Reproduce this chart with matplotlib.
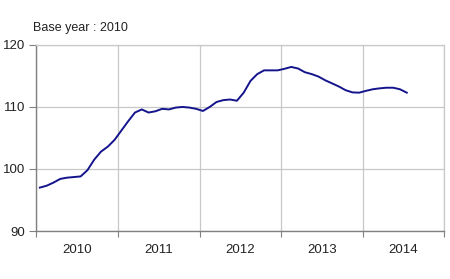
import matplotlib
matplotlib.use("Agg")
import matplotlib.pyplot as plt
import numpy as np

plt.rcParams['font.family'] = ['Liberation Sans', 'DejaVu Sans']

years = ["2010", "2011", "2012", "2013", "2014"]
# Monthly index, Jan 2010 .. Jul 2014
values = [97.0, 97.3, 97.8, 98.4, 98.6, 98.7, 98.8, 99.8, 101.5, 102.8, 103.6, 104.7,
          106.2, 107.7, 109.1, 109.6, 109.1, 109.3, 109.7, 109.6, 109.9, 110.0, 109.9, 109.7,
          109.35, 110.0, 110.8, 111.1, 111.2, 111.0, 112.3, 114.2, 115.3, 115.9, 115.9, 115.9,
          116.15, 116.45, 116.2, 115.6, 115.3, 114.9, 114.3, 113.8, 113.3, 112.7, 112.35, 112.3,
          112.6, 112.85, 113.0, 113.1, 113.1, 112.85, 112.3]
yticks = [90, 100, 110, 120]
title = "Base year : 2010"

fig = plt.figure(figsize=(4.5, 2.79), dpi=100)
ax = fig.add_axes([0.081, 0.172, 0.906, 0.667])

x = np.arange(len(values)) + 0.5
ax.plot(x, values, color='#14148c', lw=1.4, zorder=3)

ax.set_xlim(0, 60)
ax.set_ylim(90, 120)

ax.set_yticks(yticks)
ax.set_yticklabels([str(v) for v in yticks])
ax.set_xticks([12 * i for i in range(6)])
ax.set_xticklabels([])
ax.set_xticks([12 * i + 6 for i in range(len(years))], minor=True)
ax.set_xticklabels(years, minor=True)
ax.tick_params(axis='x', which='minor', length=0, pad=9, labelsize=9.5, labelcolor='#222222')
ax.tick_params(axis='x', which='major', length=4, color='#808080', direction='out')
ax.tick_params(axis='y', length=5, color='#808080', direction='out', labelsize=9.5,
               labelcolor='#222222', pad=3)

ax.grid(True, which='major', color='#c8c8c8', lw=0.9)
ax.set_axisbelow(True)

for s in ['top', 'right']:
    ax.spines[s].set_color('#c8c8c8')
    ax.spines[s].set_linewidth(0.9)
for s in ['left', 'bottom']:
    ax.spines[s].set_color('#808080')
    ax.spines[s].set_linewidth(1.0)

fig.text(0.074, 0.9, title, fontsize=9, color='#222222', ha='left', va='center')

fig.savefig("out.png", dpi=100)
